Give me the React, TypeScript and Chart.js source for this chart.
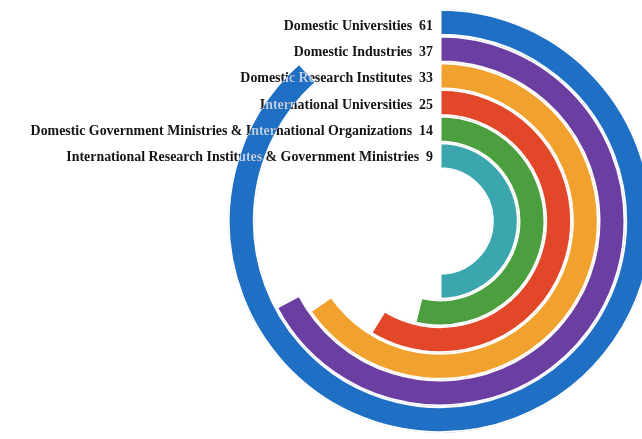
import { useEffect, useRef } from 'react';
import { Chart, registerables } from 'chart.js';

Chart.register(...registerables);

const categories = [
  'Domestic Universities',
  'Domestic Industries',
  'Domestic Research Institutes',
  'International Universities',
  'Domestic Government Ministries & International Organizations',
  'International Research Institutes & Government Ministries',
];
const counts = [61, 37, 33, 25, 14, 9];
// empty part of each ring's track, as it appears in the picture
const unfilled = [8, 18, 17.5, 17.5, 12, 9];
const colors = ['#1f6fc4', '#6b3fa2', '#f0a12e', '#e2472a', '#4c9f3e', '#3ba6ae'];

const labelPlugin = {
  id: 'ringLabels',
  afterDatasetsDraw(chart: any) {
    const ctx = chart.ctx as CanvasRenderingContext2D;
    ctx.save();
    ctx.font = 'bold 13.9px "Liberation Serif", "Times New Roman", serif';
    ctx.textAlign = 'right';
    ctx.textBaseline = 'middle';
    const items: { text: string; x: number; y: number }[] = [];
    categories.forEach((cat, i) => {
      const arc = chart.getDatasetMeta(i).data[0];
      if (!arc) return;
      const p = arc.getProps(['x', 'y', 'innerRadius', 'outerRadius'], true);
      const ty = p.y - (p.innerRadius + p.outerRadius) / 2 + 4 - i * 0.4;
      items.push({ text: `${cat}  ${counts[i]}`, x: p.x - 7, y: ty });
    });
    ctx.fillStyle = '#141414';
    items.forEach((it) => ctx.fillText(it.text, it.x, it.y));
    // where the outer ring crosses the labels, text shows light
    const outer = chart.getDatasetMeta(0).data[0];
    if (outer) {
      const p = outer.getProps(['x', 'y', 'innerRadius', 'outerRadius', 'startAngle', 'endAngle'], true);
      ctx.beginPath();
      ctx.arc(p.x, p.y, p.outerRadius - 1.5, p.startAngle, p.endAngle);
      ctx.arc(p.x, p.y, p.innerRadius + 1.5, p.endAngle, p.startAngle, true);
      ctx.closePath();
      ctx.clip();
      ctx.fillStyle = '#b8d2f2';
      items.forEach((it) => ctx.fillText(it.text, it.x, it.y));
    }
    ctx.restore();
  },
};

export default function App() {
  const ref = useRef<HTMLCanvasElement | null>(null);
  useEffect(() => {
    if (!ref.current) return;
    const chart = new Chart(ref.current, {
      type: 'doughnut',
      data: {
        labels: ['value', 'rest'],
        datasets: categories.map((c, i) => ({
          label: c,
          data: [counts[i], unfilled[i]],
          backgroundColor: [colors[i], 'rgba(0,0,0,0)'],
          borderColor: ['#ffffff', 'rgba(0,0,0,0)'],
          borderWidth: [1.5, 0],
          borderAlign: 'inner' as const,
          hoverOffset: 0,
        })),
      },
      options: {
        responsive: false,
        animation: false,
        events: [],
        cutout: '24.5%',
        layout: { padding: { left: 228, right: 8, top: 9, bottom: 6 } },
        plugins: {
          legend: { display: false },
          tooltip: { enabled: false },
        },
      },
      plugins: [labelPlugin],
    });
    return () => chart.destroy();
  }, []);
  return (
    <div style={{ position: 'fixed', left: 0, top: 0, width: 642, height: 439, overflow: 'hidden', background: '#fff' }}>
      <canvas ref={ref} width={660} height={439} style={{ display: 'block' }} />
    </div>
  );
}
